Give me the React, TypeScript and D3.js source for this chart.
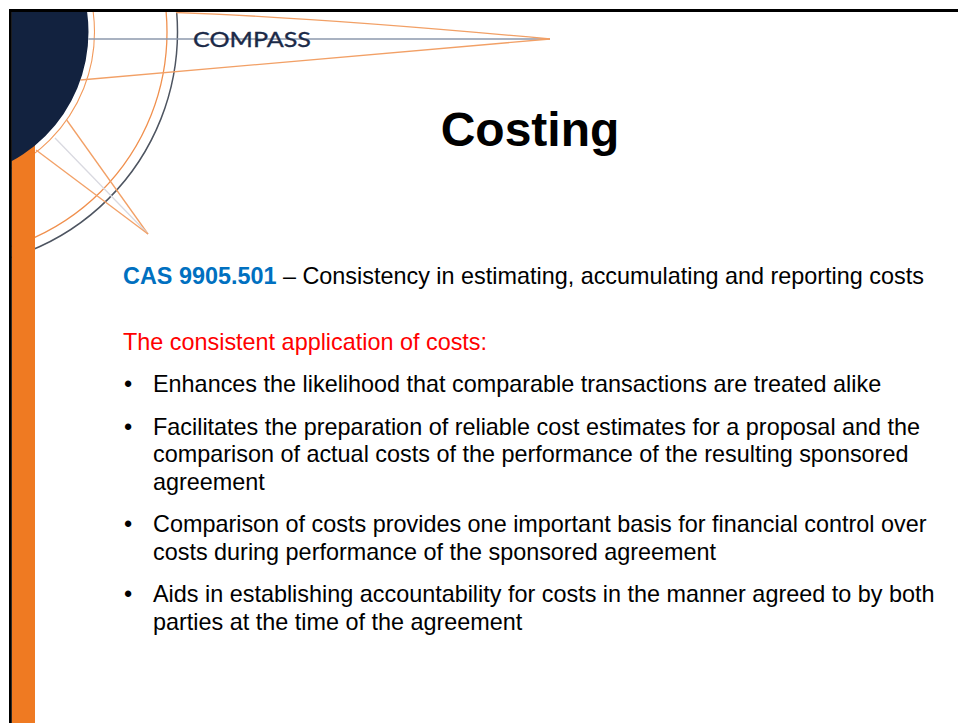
import React from "react";
import * as d3 from "d3";

const W = 958;
const H = 723;

const logoText = "COMPASS";
const titleText = "Costing";
const casCode = "CAS 9905.501";
const casDescription = " – Consistency in estimating, accumulating and reporting costs";
const introText = "The consistent application of costs:";
const bulletLines: string[][] = [
  ["Enhances the likelihood that comparable transactions are treated alike"],
  [
    "Facilitates the preparation of reliable cost estimates for a proposal and the",
    "comparison of actual costs of the performance of the resulting sponsored",
    "agreement",
  ],
  [
    "Comparison of costs provides one important basis for financial control over",
    "costs during performance of the sponsored agreement",
  ],
  [
    "Aids in establishing accountability for costs in the manner agreed to by both",
    "parties at the time of the agreement",
  ],
];

// logo geometry (circle radii around a common centre off the slide's corner)
const logoCenter: [number, number] = [-58.5, 32];
const navyRadius = 147;
const ringRadii = [153, 225.5, 236];

export default function App() {
  const [cx, cy] = logoCenter;
  const circlePath = (r: number) => {
    const p = d3.path();
    p.arc(cx, cy, r, 0, Math.PI * 2);
    p.closePath();
    return p.toString();
  };
  const line = d3.line<[number, number]>();

  const ringX = (r: number, y: number) => cx + Math.sqrt(r * r - (y - cy) * (y - cy));

  const apexTop: [number, number] = [550, 39];
  const apexBottom: [number, number] = [148, 234];

  const topCurve = d3.path();
  topCurve.moveTo(176, 12.5);
  topCurve.quadraticCurveTo(317, 17.5, apexTop[0], apexTop[1]);

  const lowerStart: [number, number] = [ringX(navyRadius, 80), 80];
  const grayStart: [number, number] = [ringX(navyRadius, 39), 39];

  const bottomLines: { from: [number, number]; color: string }[] = [
    { from: [ringX(ringRadii[0], 120), 120], color: "#F2A066" },
    { from: [55, 138], color: "#D9D9E0" },
    { from: [36, 150], color: "#F2A066" },
  ];

  const lineH = 27.5;
  const paraGap = 15;
  let yCursor = 392;
  const bulletRows: { text: string; y: number; first: boolean }[] = [];
  bulletLines.forEach((para) => {
    para.forEach((t, i) => {
      bulletRows.push({ text: t, y: yCursor, first: i === 0 });
      yCursor += lineH;
    });
    yCursor += paraGap;
  });

  const bodyFont = "'Liberation Sans', Arial, sans-serif";
  const fs = 23.4;

  return (
    <svg
      width={W}
      height={H}
      viewBox={`0 0 ${W} ${H}`}
      style={{ position: "fixed", left: 0, top: 0, background: "#fff" }}
    >
      <defs>
        <clipPath id="slide">
          <rect x={11.5} y={12} width={W} height={H} />
        </clipPath>
      </defs>
      <rect x={0} y={0} width={W} height={H} fill="#fff" />
      <g clipPath="url(#slide)">
        <path d={circlePath(ringRadii[0])} fill="none" stroke="#F29A5C" strokeWidth={1.1} />
        <path d={circlePath(ringRadii[1])} fill="none" stroke="#F0904E" strokeWidth={1.3} />
        <path d={circlePath(ringRadii[2])} fill="none" stroke="#4E5561" strokeWidth={1.5} />
        <path d={line([grayStart, apexTop]) || ""} stroke="#8C99AD" strokeWidth={1.6} fill="none" />
        <path d={topCurve.toString()} stroke="#F2A066" strokeWidth={1.3} fill="none" />
        <path d={line([lowerStart, apexTop]) || ""} stroke="#F2A066" strokeWidth={1.3} fill="none" />
        {bottomLines.map((l, i) => (
          <path key={i} d={line([l.from, apexBottom]) || ""} stroke={l.color} strokeWidth={1.3} fill="none" />
        ))}
        <rect x={11.5} y={140} width={23.5} height={H} fill="#EF7A22" />
        <path d={circlePath(navyRadius)} fill="#12223F" />
      </g>
      <rect x={9} y={9} width={W} height={3} fill="#000" />
      <rect x={9} y={9} width={2.8} height={H} fill="#000" />

      <text
        x={193}
        y={46.8}
        fontFamily="Lato, 'Open Sans', sans-serif"
        fontSize={22}
        fill="#1B2A48"
        stroke="#1B2A48"
        strokeWidth={0.35}
        textLength={118}
        lengthAdjust="spacingAndGlyphs"
      >
        {logoText}
      </text>

      <text
        x={530}
        y={145.5}
        textAnchor="middle"
        fontFamily={bodyFont}
        fontWeight="bold"
        fontSize={48}
        fill="#000"
      >
        {titleText}
      </text>

      <text x={123} y={283.5} fontFamily={bodyFont} fontSize={fs} fill="#000">
        <tspan fill="#0070C0" fontWeight="bold">
          {casCode}
        </tspan>
        <tspan>{casDescription}</tspan>
      </text>

      <text x={123} y={350} fontFamily={bodyFont} fontSize={fs} fill="#FF0000">
        {introText}
      </text>

      {bulletRows.map((r, i) => (
        <g key={i}>
          {r.first && (
            <text x={124} y={r.y} fontFamily={bodyFont} fontSize={fs} fill="#000">
              •
            </text>
          )}
          <text x={153} y={r.y} fontFamily={bodyFont} fontSize={fs} fill="#000">
            {r.text}
          </text>
        </g>
      ))}
    </svg>
  );
}
